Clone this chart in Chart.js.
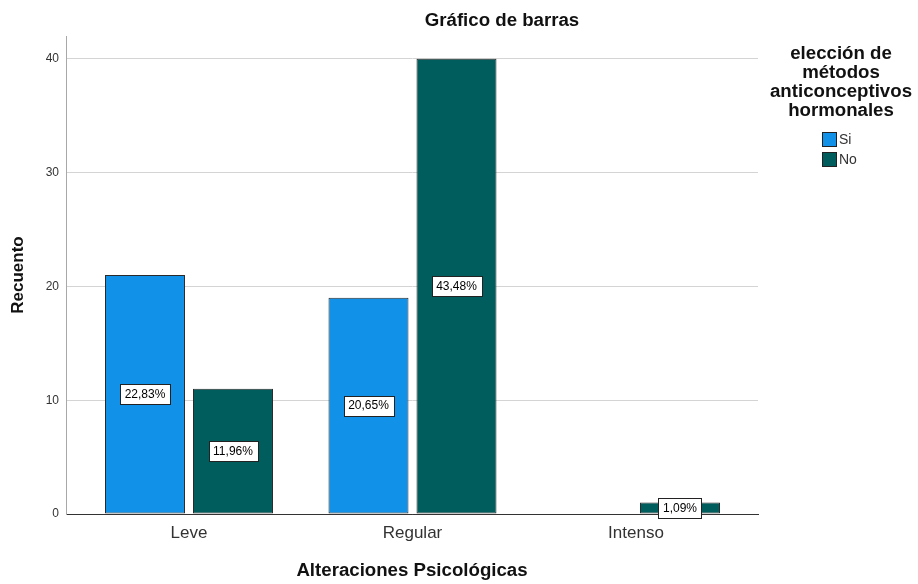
<!DOCTYPE html>
<html>
<head>
<meta charset="utf-8">
<script src="https://cdn.jsdelivr.net/npm/chart.js@4/dist/chart.umd.min.js"></script>
<style>
  html, body { margin: 0; padding: 0; background: #ffffff; }
  #wrap { width: 918px; height: 584px; position: relative; }
</style>
</head>
<body>
<div id="wrap"><canvas id="c" width="918" height="584"></canvas></div>
<script>
const categories = ['Leve', 'Regular', 'Intenso'];
const seriesNames = ['Si', 'No'];
const siValues = [21, 19, 0];
const noValues = [11, 40, 1];
const siLabels = ['22,83%', '20,65%', ''];
const noLabels = ['11,96%', '43,48%', '1,09%'];
const yTicks = [0, 10, 20, 30, 40];
const chartTitle = 'Gráfico de barras';
const xTitle = 'Alteraciones Psicológicas';
const yTitle = 'Recuento';
const legendTitle = ['elección de', 'métodos', 'anticonceptivos', 'hormonales'];

const FONT = '"Liberation Sans", Arial, Helvetica, sans-serif';
const colorSi = '#1192e8';
const colorNo = '#005d5d';

const labelSets = [siLabels, noLabels];

const dataLabelPlugin = {
  id: 'dataLabels',
  afterDatasetsDraw(chart) {
    const ctx = chart.ctx;
    ctx.save();
    ctx.font = '12px ' + FONT;
    ctx.textAlign = 'center';
    ctx.textBaseline = 'middle';
    chart.data.datasets.forEach((ds, di) => {
      const meta = chart.getDatasetMeta(di);
      meta.data.forEach((bar, i) => {
        const txt = labelSets[di][i];
        if (!txt) return;
        const cy = (bar.y + bar.base) / 2;
        const w = ctx.measureText(txt).width + 9;
        const h = 20;
        const x0 = Math.round(bar.x - w / 2) + 0.5;
        const y0 = Math.round(cy - h / 2) + 0.5;
        ctx.fillStyle = '#ffffff';
        ctx.fillRect(x0, y0, Math.round(w), h);
        ctx.strokeStyle = '#222222';
        ctx.lineWidth = 1;
        ctx.strokeRect(x0, y0, Math.round(w), h);
        ctx.fillStyle = '#000000';
        ctx.fillText(txt, bar.x, cy + 0.5);
      });
    });
    ctx.restore();
  }
};

const titleLegendPlugin = {
  id: 'titleLegend',
  afterDraw(chart) {
    const ctx = chart.ctx;
    ctx.save();
    // main title
    ctx.fillStyle = '#111111';
    ctx.font = 'bold 18.67px ' + FONT;
    ctx.textAlign = 'center';
    ctx.textBaseline = 'alphabetic';
    ctx.fillText(chartTitle, 502, 26);
    // legend title
    ctx.font = 'bold 18.67px ' + FONT;
    legendTitle.forEach((line, k) => {
      ctx.fillText(line, 841, 59 + k * 19);
    });
    // legend items
    const colors = chart.data.datasets.map(d => d.backgroundColor);
    ctx.font = '14px ' + FONT;
    ctx.textAlign = 'left';
    ctx.textBaseline = 'middle';
    chart.data.datasets.forEach((ds, k) => {
      const by = 132 + k * 20;
      ctx.fillStyle = colors[k];
      ctx.fillRect(822, by, 14, 14);
      ctx.strokeStyle = '#222222';
      ctx.lineWidth = 1;
      ctx.strokeRect(822.5, by + 0.5, 14, 14);
      ctx.fillStyle = '#333333';
      ctx.fillText(ds.label, 839, by + 8);
    });
    ctx.restore();
  }
};

const ctx = document.getElementById('c').getContext('2d');
new Chart(ctx, {
  type: 'bar',
  data: {
    datasets: [
      {
        label: seriesNames[0],
        data: siValues.map((v, i) => ({ x: i, y: v })),
        backgroundColor: colorSi,
        borderColor: '#2a2a2a',
        borderWidth: 1,
        borderSkipped: false
      },
      {
        label: seriesNames[1],
        data: noValues.map((v, i) => ({ x: i, y: v })),
        backgroundColor: colorNo,
        borderColor: '#2a2a2a',
        borderWidth: 1,
        borderSkipped: false
      }
    ]
  },
  options: {
    responsive: false,
    animation: false,
    events: [],
    categoryPercentage: 0.7875,
    barPercentage: 0.909,
    layout: { padding: { left: 0, right: 160, top: 36, bottom: 0 } },
    plugins: {
      legend: { display: false },
      title: { display: false },
      tooltip: { enabled: false }
    },
    scales: {
      x: {
        type: 'linear',
        offset: false,
        min: -0.5503,
        max: 2.5459,
        afterFit: (s) => { s.height = 70; },
        grid: { display: false, drawTicks: false },
        border: { display: true, color: '#333333', width: 1 },
        ticks: {
          stepSize: 1,
          includeBounds: false,
          autoSkip: false,
          maxRotation: 0,
          padding: 9,
          color: '#333333',
          font: { family: FONT, size: 17 },
          callback: (v) => (Number.isInteger(v) && categories[v] !== undefined) ? categories[v] : ''
        },
        title: {
          display: true,
          text: xTitle,
          color: '#111111',
          font: { family: FONT, size: 18.67, weight: 'bold' },
          padding: { top: 0, bottom: 2 }
        }
      },
      y: {
        min: 0,
        max: 42,
        afterFit: (s) => { s.width = 66; },
        afterBuildTicks: (s) => { s.ticks = yTicks.map(v => ({ value: v })); },
        grid: {
          drawTicks: false,
          color: (c) => (c.tick && c.tick.value === 0) ? '#333333' : '#d4d4d4',
          lineWidth: 1
        },
        border: { display: true, color: '#a8a8a8', width: 1 },
        ticks: {
          stepSize: 10,
          includeBounds: false,
          padding: 7,
          color: '#333333',
          font: { family: FONT, size: 12 }
        },
        title: {
          display: true,
          text: yTitle,
          color: '#111111',
          font: { family: FONT, size: 17, weight: 'bold' },
          padding: { top: 8, bottom: 0 }
        }
      }
    }
  },
  plugins: [dataLabelPlugin, titleLegendPlugin]
});
</script>
</body>
</html>
